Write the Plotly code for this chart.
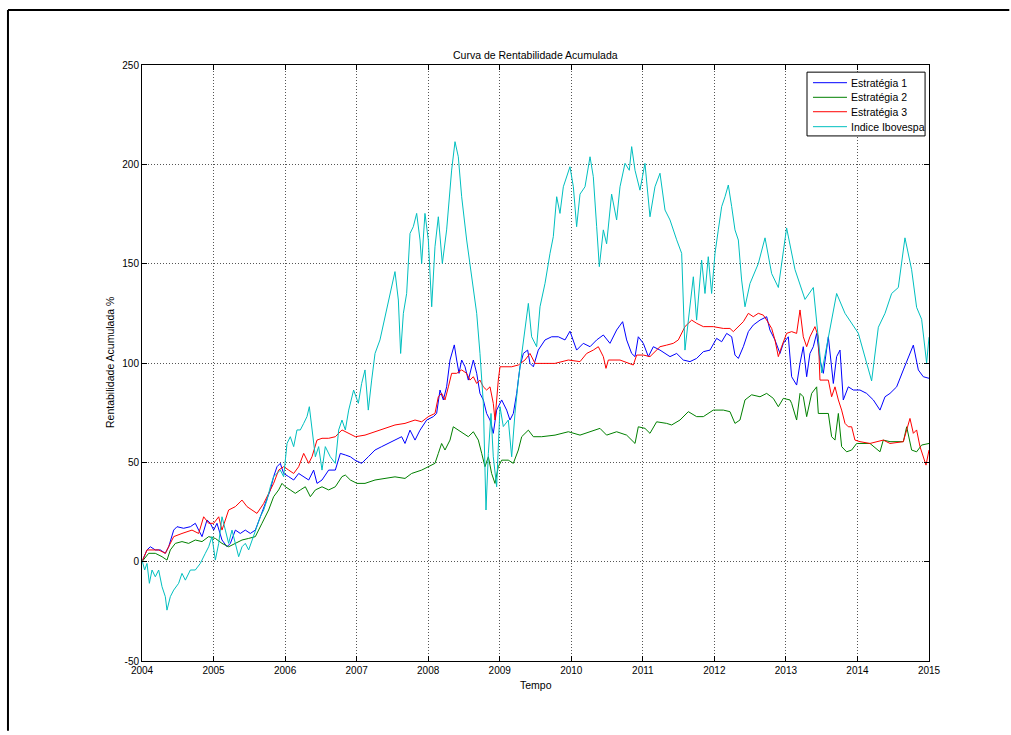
import plotly.graph_objects as go

# Cumulative return (%) of three strategies and the Ibovespa index, 2004-2015
ibov_t = [2004.000, 2004.037, 2004.070, 2004.103, 2004.140, 2004.186, 2004.233, 2004.280, 2004.326, 2004.349,
          2004.396, 2004.443, 2004.512, 2004.559, 2004.606, 2004.676, 2004.745, 2004.815, 2004.885, 2004.932,
          2004.978, 2005.025, 2005.072, 2005.118, 2005.165, 2005.211, 2005.258, 2005.305, 2005.351, 2005.398,
          2005.444, 2005.491, 2005.537, 2005.584, 2005.654, 2005.701, 2005.747, 2005.794, 2005.840, 2005.887,
          2005.933, 2005.980, 2006.027, 2006.073, 2006.120, 2006.166, 2006.213, 2006.260, 2006.306, 2006.339,
          2006.376, 2006.423, 2006.469, 2006.516, 2006.562, 2006.632, 2006.702, 2006.749, 2006.795, 2006.842,
          2006.889, 2006.958, 2007.024, 2007.070, 2007.117, 2007.163, 2007.210, 2007.257, 2007.326, 2007.396,
          2007.466, 2007.536, 2007.583, 2007.615, 2007.653, 2007.699, 2007.746, 2007.792, 2007.839, 2007.886,
          2007.909, 2007.955, 2008.002, 2008.049, 2008.095, 2008.142, 2008.198, 2008.258, 2008.328, 2008.375,
          2008.421, 2008.468, 2008.538, 2008.608, 2008.678, 2008.724, 2008.771, 2008.808, 2008.841, 2008.878,
          2008.910, 2008.957, 2009.004, 2009.050, 2009.120, 2009.167, 2009.213, 2009.260, 2009.307, 2009.353,
          2009.400, 2009.446, 2009.516, 2009.563, 2009.633, 2009.703, 2009.749, 2009.796, 2009.842, 2009.889,
          2009.936, 2009.982, 2010.029, 2010.075, 2010.122, 2010.192, 2010.262, 2010.308, 2010.355, 2010.392,
          2010.448, 2010.494, 2010.564, 2010.634, 2010.681, 2010.751, 2010.811, 2010.844, 2010.891, 2010.960,
          2011.030, 2011.100, 2011.170, 2011.240, 2011.310, 2011.380, 2011.473, 2011.543, 2011.589, 2011.636,
          2011.706, 2011.752, 2011.822, 2011.869, 2011.915, 2011.962, 2012.009, 2012.055, 2012.102, 2012.149,
          2012.195, 2012.242, 2012.288, 2012.335, 2012.381, 2012.428, 2012.498, 2012.614, 2012.708, 2012.801,
          2012.894, 2013.010, 2013.127, 2013.267, 2013.383, 2013.500, 2013.616, 2013.709, 2013.826, 2014.012,
          2014.198, 2014.292, 2014.385, 2014.478, 2014.571, 2014.664, 2014.757, 2014.827, 2014.897, 2014.967,
          2015.000]
ibov_v = [0.8, -4.2, -0.9, -10.9, -4.2, -7.6, -4.2, -12.6, -17.6, -24.4,
          -17.6, -14.3, -10.9, -5.9, -9.3, -4.2, -4.2, -0.9, 4.2, 7.5,
          12.6, 0.8, 9.2, 22.6, 15.9, 9.2, 15.9, 9.2, 2.5, 7.5,
          9.2, 5.9, 10.9, 15.9, 22.6, 26.0, 31.0, 37.7, 42.8, 44.4,
          46.1, 42.8, 59.5, 62.9, 57.9, 66.3, 66.3, 69.6, 73.0, 78.0,
          66.3, 52.8, 57.9, 46.1, 57.9, 52.8, 49.5, 66.3, 71.3, 66.3,
          76.3, 86.4, 79.7, 89.7, 96.5, 76.3, 91.4, 104.8, 111.6, 123.3,
          133.4, 146.0, 131.7, 104.8, 125.0, 135.0, 165.2, 168.6, 175.3, 161.9,
          150.1, 175.3, 161.9, 128.3, 158.5, 173.6, 150.1, 167.0, 197.1, 211.4,
          203.8, 183.7, 161.9, 143.4, 125.0, 104.8, 79.7, 26.0, 54.5, 74.6,
          52.8, 37.7, 78.0, 68.0, 71.3, 52.8, 74.6, 91.4, 104.8, 116.6,
          130.0, 113.2, 108.2, 128.3, 140.1, 155.2, 163.6, 183.7, 175.3, 188.7,
          193.8, 198.8, 188.7, 168.6, 185.0, 188.7, 203.8, 193.8, 168.6, 148.5,
          167.0, 160.0, 185.0, 172.0, 188.7, 200.5, 197.0, 208.9, 197.0, 187.0,
          200.5, 173.6, 188.7, 195.5, 177.0, 172.0, 162.0, 155.2, 106.5, 121.6,
          143.4, 121.6, 151.8, 135.0, 153.5, 135.0, 155.2, 167.0, 178.7, 183.7,
          189.6, 178.7, 167.0, 161.9, 141.8, 128.3, 140.0, 150.0, 163.0, 145.0,
          138.0, 168.0, 147.0, 132.0, 138.0, 95.0, 118.0, 135.0, 125.0, 115.0,
          91.0, 118.0, 125.0, 135.0, 138.0, 163.0, 147.0, 128.0, 122.0, 100.0,
          113.0]

est1_t = [2004.000, 2004.070, 2004.116, 2004.186, 2004.256, 2004.326, 2004.373, 2004.443, 2004.489, 2004.582,
          2004.676, 2004.745, 2004.792, 2004.839, 2004.909, 2004.955, 2005.002, 2005.048, 2005.118, 2005.188,
          2005.235, 2005.305, 2005.374, 2005.444, 2005.514, 2005.584, 2005.654, 2005.724, 2005.794, 2005.840,
          2005.887, 2005.933, 2005.980, 2006.050, 2006.120, 2006.190, 2006.260, 2006.330, 2006.399, 2006.446,
          2006.516, 2006.609, 2006.702, 2006.772, 2006.842, 2006.912, 2006.977, 2007.070, 2007.163, 2007.257,
          2007.350, 2007.443, 2007.536, 2007.629, 2007.676, 2007.746, 2007.816, 2007.886, 2007.979, 2008.072,
          2008.118, 2008.165, 2008.212, 2008.258, 2008.305, 2008.365, 2008.398, 2008.431, 2008.468, 2008.515,
          2008.561, 2008.631, 2008.678, 2008.724, 2008.771, 2008.817, 2008.864, 2008.910, 2008.957, 2009.027,
          2009.097, 2009.143, 2009.190, 2009.237, 2009.283, 2009.330, 2009.390, 2009.423, 2009.470, 2009.539,
          2009.633, 2009.726, 2009.819, 2009.912, 2009.982, 2010.075, 2010.168, 2010.262, 2010.355, 2010.448,
          2010.541, 2010.634, 2010.718, 2010.774, 2010.844, 2010.891, 2010.937, 2011.007, 2011.077, 2011.147,
          2011.240, 2011.380, 2011.473, 2011.566, 2011.659, 2011.752, 2011.846, 2011.939, 2012.032, 2012.102,
          2012.172, 2012.242, 2012.288, 2012.335, 2012.405, 2012.475, 2012.544, 2012.638, 2012.731, 2012.777,
          2012.847, 2012.917, 2012.964, 2013.034, 2013.080, 2013.150, 2013.197, 2013.243, 2013.290, 2013.336,
          2013.383, 2013.430, 2013.476, 2013.523, 2013.593, 2013.663, 2013.709, 2013.756, 2013.802, 2013.872,
          2013.942, 2014.035, 2014.128, 2014.222, 2014.315, 2014.385, 2014.455, 2014.548, 2014.641, 2014.711,
          2014.781, 2014.851, 2014.920, 2015.000]
est1_v = [0.0, 5.9, 7.5, 5.9, 5.9, 4.2, 7.5, 15.9, 17.6, 16.8,
          17.6, 19.3, 15.9, 12.6, 21.0, 19.3, 15.9, 19.3, 10.9, 7.5,
          9.2, 15.9, 14.2, 15.9, 14.2, 15.9, 22.6, 29.3, 36.1, 42.8,
          47.8, 49.5, 44.4, 42.8, 41.1, 44.4, 42.8, 41.1, 46.1, 39.4,
          41.1, 46.1, 46.1, 54.5, 53.7, 52.8, 51.1, 49.5, 52.8, 56.2,
          57.9, 59.5, 61.2, 62.9, 59.5, 66.2, 61.2, 66.2, 71.3, 73.0,
          74.6, 86.4, 81.4, 88.0, 101.5, 109.1, 101.5, 94.8, 101.5, 98.1,
          91.4, 101.5, 94.8, 84.7, 81.4, 74.6, 71.3, 64.6, 76.3, 81.4,
          76.3, 71.3, 74.6, 84.7, 98.1, 104.8, 106.5, 99.8, 98.1, 106.5,
          111.6, 113.2, 113.2, 111.6, 116.0, 106.5, 109.9, 108.2, 111.6, 114.1,
          109.9, 116.6, 120.8, 111.6, 104.8, 103.2, 113.2, 109.9, 103.2, 108.2,
          106.5, 103.2, 104.8, 101.5, 100.7, 102.3, 105.7, 106.5, 112.4, 110.7,
          114.9, 113.2, 104.0, 102.3, 108.2, 115.8, 119.1, 121.6, 123.3, 116.6,
          111.6, 104.8, 109.9, 113.2, 93.1, 88.9, 99.8, 108.2, 93.1, 104.8,
          108.2, 114.9, 101.5, 94.8, 113.2, 89.7, 103.2, 106.5, 81.4, 88.0,
          86.4, 86.4, 84.7, 81.4, 76.3, 83.0, 84.7, 88.0, 96.5, 103.2,
          109.0, 96.5, 93.1, 92.3]

est2_t = [2004.000, 2004.093, 2004.186, 2004.280, 2004.349, 2004.396, 2004.466, 2004.559, 2004.652, 2004.745,
          2004.839, 2004.932, 2005.025, 2005.118, 2005.211, 2005.305, 2005.398, 2005.491, 2005.584, 2005.677,
          2005.770, 2005.840, 2005.910, 2005.957, 2006.003, 2006.073, 2006.143, 2006.213, 2006.283, 2006.353,
          2006.423, 2006.516, 2006.609, 2006.702, 2006.795, 2006.842, 2006.912, 2007.005, 2007.117, 2007.257,
          2007.396, 2007.536, 2007.676, 2007.769, 2007.909, 2008.002, 2008.095, 2008.142, 2008.188, 2008.235,
          2008.305, 2008.351, 2008.421, 2008.491, 2008.561, 2008.631, 2008.701, 2008.748, 2008.794, 2008.841,
          2008.887, 2008.934, 2008.980, 2009.027, 2009.120, 2009.190, 2009.260, 2009.307, 2009.353, 2009.400,
          2009.470, 2009.586, 2009.773, 2009.959, 2010.122, 2010.262, 2010.401, 2010.494, 2010.634, 2010.774,
          2010.891, 2010.937, 2011.030, 2011.100, 2011.193, 2011.333, 2011.403, 2011.520, 2011.636, 2011.752,
          2011.846, 2011.985, 2012.125, 2012.218, 2012.288, 2012.358, 2012.428, 2012.521, 2012.638, 2012.731,
          2012.824, 2012.894, 2012.964, 2013.057, 2013.080, 2013.150, 2013.197, 2013.243, 2013.290, 2013.360,
          2013.430, 2013.453, 2013.593, 2013.639, 2013.686, 2013.733, 2013.779, 2013.849, 2013.919, 2013.989,
          2014.175, 2014.315, 2014.361, 2014.455, 2014.641, 2014.688, 2014.757, 2014.827, 2014.897, 2015.000]
est2_v = [0.0, 4.2, 4.2, 2.5, 0.8, 5.9, 9.2, 10.1, 9.2, 10.9,
          10.1, 12.6, 11.7, 9.2, 7.5, 9.2, 10.9, 11.7, 12.6, 19.3,
          26.0, 32.7, 36.1, 39.4, 37.7, 36.1, 34.4, 36.1, 37.7, 32.7,
          36.1, 37.7, 36.1, 37.7, 42.8, 43.6, 41.1, 39.4, 39.4, 41.1,
          41.9, 42.7, 41.9, 44.4, 46.1, 47.8, 49.5, 54.5, 59.5, 56.2,
          61.2, 67.9, 66.2, 64.6, 62.9, 65.4, 61.2, 54.5, 47.8, 52.8,
          44.4, 39.4, 47.8, 51.1, 51.1, 49.5, 56.2, 62.9, 64.6, 66.2,
          62.9, 62.9, 63.7, 65.4, 63.7, 65.4, 67.1, 63.7, 65.4, 63.7,
          59.5, 67.9, 67.1, 64.6, 70.4, 69.6, 68.8, 71.3, 75.5, 73.0,
          73.0, 76.3, 76.3, 75.5, 69.6, 71.3, 81.4, 84.0, 83.0, 84.7,
          82.2, 78.0, 82.2, 81.4, 79.7, 71.3, 84.7, 83.0, 73.0, 84.7,
          88.0, 74.6, 74.6, 62.9, 61.2, 74.6, 57.9, 55.3, 56.2, 59.5,
          59.5, 55.3, 61.2, 60.4, 60.4, 67.9, 56.2, 55.3, 58.7, 59.5]

est3_t = [2004.000, 2004.070, 2004.140, 2004.233, 2004.326, 2004.396, 2004.443, 2004.559, 2004.699, 2004.792,
          2004.862, 2004.932, 2005.002, 2005.072, 2005.118, 2005.211, 2005.305, 2005.398, 2005.468, 2005.537,
          2005.607, 2005.701, 2005.770, 2005.840, 2005.910, 2005.980, 2006.050, 2006.120, 2006.190, 2006.260,
          2006.330, 2006.376, 2006.446, 2006.516, 2006.609, 2006.702, 2006.795, 2006.889, 2006.982, 2007.117,
          2007.257, 2007.396, 2007.536, 2007.676, 2007.816, 2007.909, 2008.002, 2008.095, 2008.142, 2008.188,
          2008.235, 2008.282, 2008.328, 2008.398, 2008.468, 2008.538, 2008.584, 2008.631, 2008.678, 2008.724,
          2008.771, 2008.817, 2008.864, 2008.910, 2008.934, 2008.980, 2009.004, 2009.167, 2009.260, 2009.353,
          2009.423, 2009.493, 2009.772, 2009.959, 2010.122, 2010.215, 2010.308, 2010.378, 2010.448, 2010.485,
          2010.518, 2010.681, 2010.751, 2010.867, 2010.914, 2011.007, 2011.100, 2011.170, 2011.240, 2011.333,
          2011.426, 2011.496, 2011.589, 2011.683, 2011.752, 2011.846, 2011.985, 2012.125, 2012.218, 2012.265,
          2012.312, 2012.405, 2012.475, 2012.544, 2012.614, 2012.684, 2012.731, 2012.801, 2012.847, 2012.894,
          2012.940, 2013.010, 2013.080, 2013.150, 2013.197, 2013.243, 2013.290, 2013.336, 2013.406, 2013.453,
          2013.476, 2013.593, 2013.639, 2013.686, 2013.733, 2013.779, 2013.826, 2013.872, 2013.919, 2013.965,
          2014.035, 2014.175, 2014.361, 2014.455, 2014.641, 2014.688, 2014.734, 2014.781, 2014.827, 2014.874,
          2014.920, 2014.958, 2015.000]
est3_v = [0.0, 5.9, 5.9, 5.9, 4.2, 9.2, 12.6, 14.2, 15.9, 14.2,
          22.6, 19.3, 19.3, 22.6, 15.9, 26.0, 27.7, 31.0, 27.7, 26.0,
          24.3, 29.3, 34.4, 39.4, 46.1, 47.8, 46.1, 44.4, 47.8, 54.5,
          49.5, 52.8, 61.2, 62.1, 62.1, 62.9, 66.3, 64.6, 62.9, 63.7,
          65.4, 67.1, 68.8, 69.6, 71.3, 70.4, 73.0, 74.6, 83.0, 84.7,
          81.4, 88.0, 94.8, 94.8, 96.5, 94.8, 91.4, 93.1, 89.7, 91.4,
          88.0, 86.4, 88.0, 79.7, 71.3, 91.4, 98.1, 98.1, 99.0, 101.5,
          104.8, 99.8, 99.8, 101.5, 100.7, 104.8, 106.5, 108.2, 103.2, 97.3,
          101.5, 101.5, 100.7, 99.0, 104.0, 104.0, 103.2, 105.7, 108.2, 109.0,
          109.9, 111.6, 118.3, 121.6, 120.0, 118.3, 118.3, 117.4, 117.4, 115.8,
          117.4, 120.8, 125.0, 123.3, 125.0, 124.1, 121.6, 117.4, 111.6, 103.2,
          108.2, 114.9, 115.8, 114.9, 126.7, 113.2, 108.2, 113.2, 118.3, 113.2,
          91.4, 91.4, 83.0, 88.0, 81.4, 76.3, 69.6, 67.9, 67.9, 61.2,
          60.4, 59.5, 61.2, 59.5, 60.4, 66.3, 72.1, 64.6, 66.3, 57.9,
          52.8, 48.6, 56.2]

series = [
    ("Estratégia 1", est1_t, est1_v, "#0000ff"),
    ("Estratégia 2", est2_t, est2_v, "#008000"),
    ("Estratégia 3", est3_t, est3_v, "#ff0000"),
    ("Indice Ibovespa", ibov_t, ibov_v, "#00bfbf"),
]

x_ticks = list(range(2004, 2016))
y_ticks = [-50, 0, 50, 100, 150, 200, 250]

FONT = "Liberation Sans, Arial, Helvetica, sans-serif"

fig = go.Figure()
for name, t, v, color in series:
    fig.add_trace(go.Scatter(x=t, y=v, mode="lines", name=name, showlegend=False,
                             line=dict(color=color, width=1)))

axis_common = dict(
    showline=True, linecolor="black", linewidth=1, mirror="ticks",
    ticks="inside", ticklen=5, tickcolor="black", tickwidth=1,
    showgrid=True, gridcolor="#555555", gridwidth=1, griddash="1px,2px",
    zeroline=False, tickfont=dict(family=FONT, size=10, color="black"),
)

# Boxed legend in the upper-right corner of the axes
leg_x0, leg_x1 = 0.845, 0.995
leg_y0, leg_y1 = 0.881, 0.988
sample_x0, sample_x1, text_x = 0.8526, 0.8958, 0.8983
row_y = [0.9703, 0.9458, 0.9216, 0.8965]

# Figure frame: left and top edges, kept strictly inside the page so
# nothing overflows the plot div
frame_x, frame_top = -0.1703, 1.0923
frame_right, frame_bottom = 1.102, -0.117
shapes = [
    dict(type="line", xref="paper", yref="paper",
         x0=frame_x, x1=frame_x, y0=frame_bottom, y1=frame_top,
         line=dict(color="black", width=2), layer="below"),
    dict(type="line", xref="paper", yref="paper",
         x0=frame_x, x1=frame_right, y0=frame_top, y1=frame_top,
         line=dict(color="black", width=2), layer="below"),
    dict(type="rect", xref="paper", yref="paper",
         x0=leg_x0, x1=leg_x1, y0=leg_y0, y1=leg_y1,
         line=dict(color="black", width=1), fillcolor="white", layer="above"),
]
annotations = [
    dict(text="Curva de Rentabilidade Acumulada", xref="paper", yref="paper",
         x=0.5, y=1.0, yshift=10, xanchor="center", yanchor="middle",
         showarrow=False, font=dict(family=FONT, size=10.5)),
    dict(text="Tempo", xref="paper", yref="paper", x=0.5, y=0, yshift=-24,
         xanchor="center", yanchor="middle", showarrow=False,
         font=dict(family=FONT, size=10.5)),
    dict(text="Rentabilidade Acumulada %", xref="paper", yref="paper",
         x=0, xshift=-32, y=0.5, xanchor="center", yanchor="middle",
         textangle=-90, showarrow=False, font=dict(family=FONT, size=10.5)),
]
for (name, _, _, color), ry in zip(series, row_y):
    shapes.append(dict(type="line", xref="paper", yref="paper",
                       x0=sample_x0, x1=sample_x1, y0=ry, y1=ry,
                       line=dict(color=color, width=1), layer="above"))
    annotations.append(dict(text=name, xref="paper", yref="paper", x=text_x, y=ry,
                            xanchor="left", yanchor="middle", showarrow=False,
                            font=dict(family=FONT, size=10.5, color="black")))

fig.update_layout(
    width=1011, height=735,
    margin=dict(l=142, r=82, t=65, b=74),
    paper_bgcolor="white", plot_bgcolor="white",
    font=dict(family=FONT, size=10.5, color="black"),
    showlegend=False,
    xaxis=dict(range=[2004, 2015], tickvals=x_ticks,
               ticktext=[str(v) for v in x_ticks], **axis_common),
    yaxis=dict(range=[-50, 250], tickvals=y_ticks,
               ticktext=[str(v) for v in y_ticks], **axis_common),
    annotations=annotations,
    shapes=shapes,
)

fig.write_html("out.html")
